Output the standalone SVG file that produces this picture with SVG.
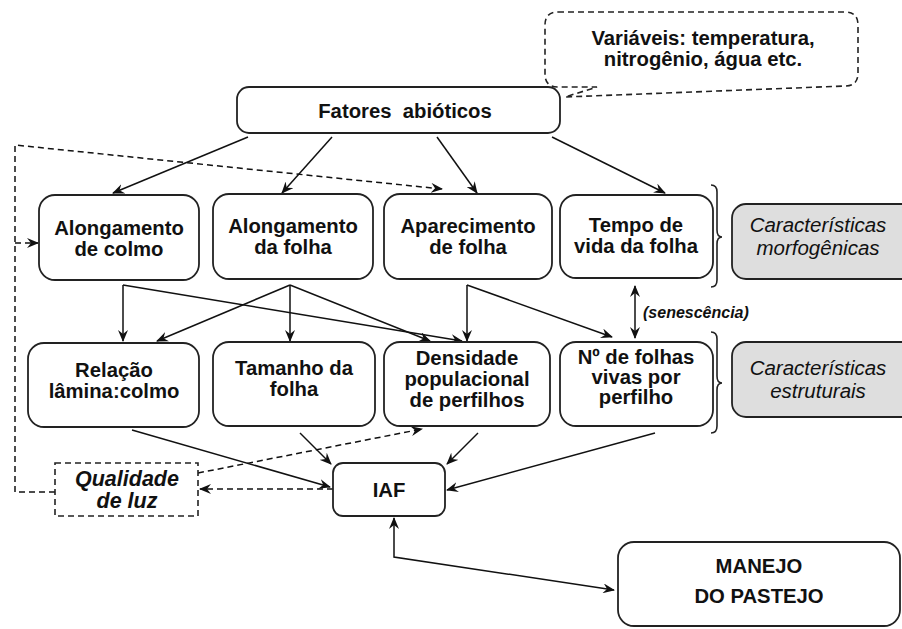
<svg xmlns="http://www.w3.org/2000/svg" width="902" height="629" viewBox="0 0 902 629">
<defs>
<marker id="ah" viewBox="0 0 12 10" refX="11" refY="5" markerWidth="12" markerHeight="10" markerUnits="userSpaceOnUse" orient="auto-start-reverse">
<path d="M0,0 L12,5 L0,10 L4,5 Z" fill="#111"/>
</marker>
<style>
.box{fill:#fff;stroke:#222;stroke-width:1.8}
.gray{fill:#dedede;stroke:#222;stroke-width:1.8}
.dbox{fill:#fff;stroke:#222;stroke-width:1.6;stroke-dasharray:6 4}
.t{font-family:"Liberation Sans",Arial,sans-serif;font-weight:bold;font-size:20.3px;fill:#111;text-anchor:middle}
.ti{font-family:"Liberation Sans",Arial,sans-serif;font-style:italic;font-size:20.5px;fill:#111;text-anchor:middle}
.tbi{font-family:"Liberation Sans",Arial,sans-serif;font-style:italic;font-weight:bold;fill:#111;text-anchor:middle}
.c{fill:none;stroke:#111;stroke-width:1.5}
.d{fill:none;stroke:#111;stroke-width:1.5;stroke-dasharray:6 4}
.br{fill:none;stroke:#222;stroke-width:1.6}
</style>
</defs>
<rect width="902" height="629" fill="#fff"/>

<g id="connectors">
<line class="c" x1="248" y1="137" x2="113" y2="193" marker-end="url(#ah)"/>
<line class="c" x1="332" y1="137" x2="282" y2="193" marker-end="url(#ah)"/>
<line class="c" x1="437" y1="137" x2="477" y2="193" marker-end="url(#ah)"/>
<line class="c" x1="552" y1="137" x2="665" y2="193" marker-end="url(#ah)"/>
<line class="c" x1="123" y1="285" x2="123" y2="341" marker-end="url(#ah)"/>
<line class="c" x1="123" y1="285" x2="462" y2="341" marker-end="url(#ah)"/>
<line class="c" x1="290" y1="285" x2="157" y2="341" marker-end="url(#ah)"/>
<line class="c" x1="290" y1="285" x2="290" y2="341" marker-end="url(#ah)"/>
<line class="c" x1="290" y1="285" x2="430" y2="341" marker-end="url(#ah)"/>
<line class="c" x1="467" y1="285" x2="467" y2="341" marker-end="url(#ah)"/>
<line class="c" x1="467" y1="285" x2="612" y2="337" marker-end="url(#ah)"/>
<line class="c" x1="635" y1="286" x2="635" y2="338" marker-start="url(#ah)" marker-end="url(#ah)"/>
<line class="c" x1="132" y1="430" x2="330" y2="487" marker-end="url(#ah)"/>
<line class="c" x1="300" y1="433" x2="331" y2="464" marker-end="url(#ah)"/>
<line class="c" x1="478" y1="433" x2="447" y2="464" marker-end="url(#ah)"/>
<line class="c" x1="655" y1="433" x2="447" y2="490" marker-end="url(#ah)"/>
<polyline class="c" points="394,518 394,557 614,590" marker-start="url(#ah)" marker-end="url(#ah)"/>
<polyline class="d" points="55,492 15,492 15,145 442,189" marker-end="url(#ah)"/>
<line class="d" x1="15" y1="243" x2="38" y2="243" marker-end="url(#ah)"/>
<line class="d" x1="333" y1="489" x2="200" y2="489" marker-end="url(#ah)"/>
<line class="d" x1="198" y1="473" x2="422" y2="429" marker-end="url(#ah)"/>
<path class="br" d="M711,185 Q717,185 717,192 L717,230 Q717,237 722,237 Q717,237 717,244 L717,280 Q717,287 711,287"/>
<path class="br" d="M711,332 Q717,332 717,339 L717,376 Q717,383 722,383 Q717,383 717,390 L717,426 Q717,433 711,433"/>
<text class="tbi" x="643" y="318" font-size="16" style="text-anchor:start">(senescência)</text>
</g>

<g id="n-callout">
<path class="dbox" d="M558,12 L845,12 Q858,12 858,25 L858,73 Q858,86 845,86 L565,97 L597,87 L558,87 Q545,87 545,74 L545,25 Q545,12 558,12 Z"/>
<text class="t" x="703" y="45" font-size="18">Variáveis: temperatura,</text>
<text class="t" x="703" y="66" font-size="18">nitrogênio, água etc.</text>
</g>

<g id="n-fatores">
<rect class="box" x="237" y="87" width="323" height="46" rx="12"/>
<text class="t" x="405" y="118" font-size="20" xml:space="preserve">Fatores  abióticos</text>
</g>

<g id="n-along-colmo">
<rect class="box" x="39" y="195" width="160" height="85" rx="16"/>
<text class="t" x="119" y="235">Alongamento</text>
<text class="t" x="119" y="256">de colmo</text>
</g>
<g id="n-along-folha">
<rect class="box" x="213" y="194" width="160" height="85" rx="16"/>
<text class="t" x="293" y="233">Alongamento</text>
<text class="t" x="293" y="254">da folha</text>
</g>
<g id="n-aparec">
<rect class="box" x="384" y="194" width="168" height="85" rx="16"/>
<text class="t" x="468" y="233">Aparecimento</text>
<text class="t" x="468" y="254">de folha</text>
</g>
<g id="n-tempo">
<rect class="box" x="560" y="195" width="153" height="83" rx="16"/>
<text class="t" x="636" y="232">Tempo de</text>
<text class="t" x="636" y="253">vida da folha</text>
</g>
<g id="n-morfo">
<rect class="gray" x="732" y="204" width="185" height="75" rx="14"/>
<text class="ti" x="818" y="232">Características</text>
<text class="ti" x="818" y="255">morfogênicas</text>
</g>

<g id="n-relacao">
<rect class="box" x="28" y="343" width="171" height="84" rx="16"/>
<text class="t" x="114" y="377">Relação</text>
<text class="t" x="114" y="398">lâmina:colmo</text>
</g>
<g id="n-tamanho">
<rect class="box" x="213" y="342" width="162" height="84" rx="16"/>
<text class="t" x="294" y="375">Tamanho da</text>
<text class="t" x="294" y="396">folha</text>
</g>
<g id="n-densidade">
<rect class="box" x="384" y="342" width="166" height="84" rx="16"/>
<text class="t" x="467" y="365">Densidade</text>
<text class="t" x="467" y="386">populacional</text>
<text class="t" x="467" y="407">de perfilhos</text>
</g>
<g id="n-nfolhas">
<rect class="box" x="560" y="342" width="153" height="84" rx="16"/>
<text class="t" x="636" y="364">Nº de folhas</text>
<text class="t" x="636" y="384">vivas por</text>
<text class="t" x="636" y="404">perfilho</text>
</g>
<g id="n-estrut">
<rect class="gray" x="732" y="342" width="185" height="75" rx="14"/>
<text class="ti" x="818" y="375">Características</text>
<text class="ti" x="818" y="398">estruturais</text>
</g>

<g id="n-qualidade">
<rect class="dbox" x="55" y="463" width="143" height="53"/>
<text class="tbi" x="127" y="486" font-size="21.5">Qualidade</text>
<text class="tbi" x="127" y="508" font-size="21.5">de luz</text>
</g>

<g id="n-iaf">
<rect class="box" x="333" y="463" width="112" height="53" rx="10"/>
<text class="t" x="389" y="497">IAF</text>
</g>

<g id="n-manejo">
<rect class="box" x="618" y="542" width="282" height="84" rx="16"/>
<text class="t" x="759" y="573" font-size="21">MANEJO</text>
<text class="t" x="759" y="603" font-size="21">DO PASTEJO</text>
</g>
</svg>
